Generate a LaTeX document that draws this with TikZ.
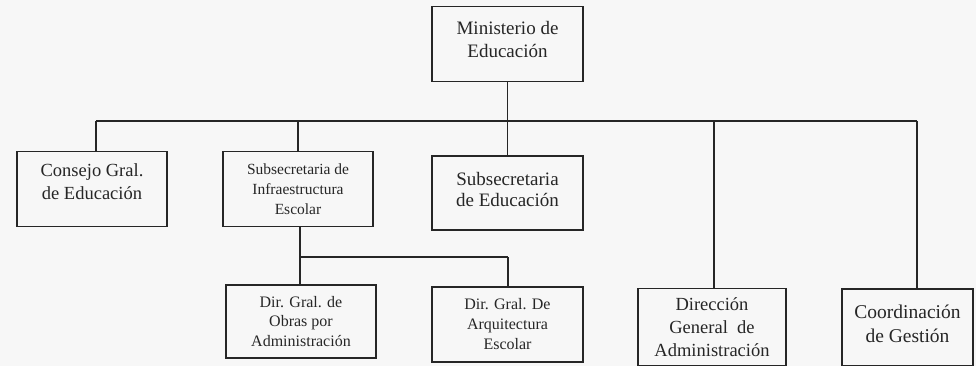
\documentclass[tikz,border=0pt]{standalone}
\usepackage{fontspec}
\setmainfont{Liberation Serif}
\begin{document}
\begin{tikzpicture}[x=1pt,y=-1pt,
  box/.style={draw=black!85,line width=1.3pt,rectangle,align=center,inner sep=1pt,text=black!85},
  conn/.style={draw=black!85,line width=1.1pt}]
\useasboundingbox (0,0) rectangle (976,366);
\fill[black!3] (0,0) rectangle (976,366);
% nodes (centers)
\node[box,minimum width=151,minimum height=75,font=\fontsize{19}{23}\selectfont] (min) at (507.5,44) {Ministerio de\\Educación\\[-14pt]};
\node[box,minimum width=150,minimum height=75,font=\fontsize{18.5}{23}\selectfont] (cons) at (92,189) {Consejo Gral.\\de Educación\\[-9pt]};
\node[box,minimum width=150,minimum height=75,font=\fontsize{15.5}{20}\selectfont] (infra) at (298,189) {Subsecretaria de\\Infraestructura\\Escolar};
\node[box,minimum width=151,minimum height=74,font=\fontsize{19}{21}\selectfont] (subed) at (507.5,193) {Subsecretaria\\de Educación\\[-13pt]};
\node[box,minimum width=150,minimum height=73,font=\fontsize{16}{19.5}\selectfont] (obras) at (301,321.5) {Dir. Gral. de\\Obras por\\Administración};
\node[box,minimum width=151,minimum height=75,font=\fontsize{16}{20}\selectfont] (arq) at (507.5,324.5) {Dir. Gral. De\\Arquitectura\\Escolar};
\node[box,minimum width=148,minimum height=77,font=\fontsize{18.5}{23}\selectfont] (dir) at (712,327) {Dirección\\General\ \ de\\Administración};
\node[box,minimum width=131,minimum height=77,font=\fontsize{19.5}{24}\selectfont] (coord) at (907.5,327.5) {Coordinación\\de Gestión\\[-16pt]};
% bus coordinates
\coordinate (bL) at (96,121);
\coordinate (bR) at (917,121);
\coordinate (bD) at (714,121);
\coordinate (bI) at (298,121);
\coordinate (sL) at (300,257);
\coordinate (sR) at (508,257);
% connectors
\draw[conn] (min.south) -- (subed.north);
\draw[conn] (bL) -- (bR);
\draw[conn] (bL) -- (bL |- cons.north);
\draw[conn] (bI) -- (infra.north);
\draw[conn] (bD) -- (bD |- dir.north);
\draw[conn] (bR) -- (bR |- coord.north);
\draw[conn] (sL |- infra.south) -- (sL) -- (sR);
\draw[conn] (sL) -- (sL |- obras.north);
\draw[conn] (sR) -- (sR |- arq.north);
\end{tikzpicture}
\end{document}
